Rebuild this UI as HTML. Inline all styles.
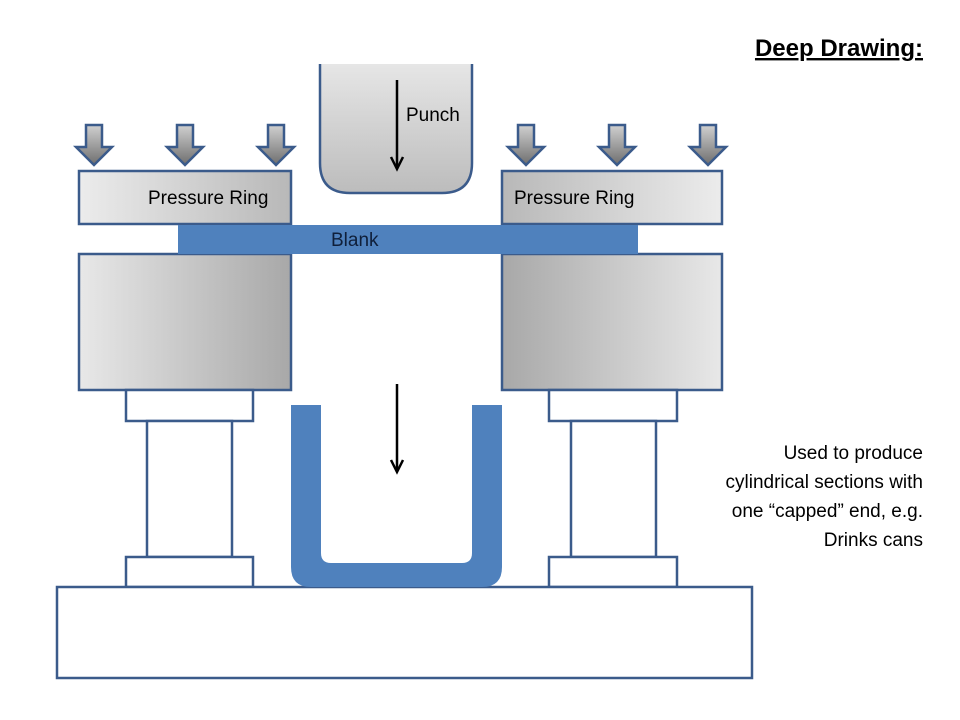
<!DOCTYPE html>
<html><head><meta charset="utf-8"><style>
html,body{margin:0;padding:0;background:#fff;}
svg{display:block;}
text{font-family:"Liberation Sans",sans-serif;}
</style></head><body>
<svg width="960" height="720" viewBox="0 0 960 720" xmlns="http://www.w3.org/2000/svg">
<defs>
<linearGradient id="gl" x1="0" x2="1" y1="0" y2="0"><stop offset="0" stop-color="#e8e8e8"/><stop offset="1" stop-color="#a8a8a8"/></linearGradient>
<linearGradient id="gr" x1="1" x2="0" y1="0" y2="0"><stop offset="0" stop-color="#e8e8e8"/><stop offset="1" stop-color="#a8a8a8"/></linearGradient>
<linearGradient id="rl" x1="0" x2="1" y1="0" y2="0"><stop offset="0" stop-color="#ececec"/><stop offset="1" stop-color="#b8b8b8"/></linearGradient>
<linearGradient id="rr" x1="1" x2="0" y1="0" y2="0"><stop offset="0" stop-color="#ececec"/><stop offset="1" stop-color="#b8b8b8"/></linearGradient>
<linearGradient id="pu" x1="0" x2="0" y1="0" y2="1"><stop offset="0" stop-color="#e6e6e6"/><stop offset="1" stop-color="#bcbcbc"/></linearGradient>
<linearGradient id="ar" x1="0" x2="0" y1="0" y2="1"><stop offset="0" stop-color="#d0d0d0"/><stop offset="1" stop-color="#6e6e6e"/></linearGradient>
<path id="ba" d="M-8,0 H8 V22 H18 L0,40 L-18,22 H-8 Z" fill="url(#ar)" stroke="#3b5b8b" stroke-width="2.5" stroke-linejoin="miter"/>
</defs>
<g stroke="#3b5b8b" stroke-width="2.5" fill="#fff">
<path d="M320,64 V163 Q320,193 350,193 H442 Q472,193 472,163 V64" fill="url(#pu)"/>
<rect x="79" y="171" width="212" height="53" fill="url(#rl)"/>
<rect x="502" y="171" width="220" height="53" fill="url(#rr)"/>
<rect x="79" y="254" width="212" height="136" fill="url(#gl)"/>
<rect x="502" y="254" width="220" height="136" fill="url(#gr)"/>
<rect x="126" y="390" width="127" height="31"/>
<rect x="147" y="421" width="85" height="136"/>
<rect x="126" y="557" width="127" height="30"/>
<rect x="549" y="390" width="128" height="31"/>
<rect x="571" y="421" width="85" height="136"/>
<rect x="549" y="557" width="128" height="30"/>
<rect x="57" y="587" width="695" height="91"/>
</g>
<rect x="178" y="225" width="460" height="29" fill="#4f81bd"/>
<path d="M291,405 H321 V553 Q321,563 331,563 H462 Q472,563 472,553 V405 H502 V567 Q502,587 482,587 H311 Q291,587 291,567 Z" fill="#4f81bd"/>
<use href="#ba" x="94" y="125"/>
<use href="#ba" x="185" y="125"/>
<use href="#ba" x="276" y="125"/>
<use href="#ba" x="526" y="125"/>
<use href="#ba" x="617" y="125"/>
<use href="#ba" x="708" y="125"/>
<g stroke="#000" stroke-width="2.5" fill="none">
<line x1="397" y1="80" x2="397" y2="168"/>
<path d="M391,157 L397,169 L403,157"/>
<line x1="397" y1="384" x2="397" y2="471"/>
<path d="M391,460 L397,472 L403,460"/>
</g>
<g font-size="19" fill="#000">
<text x="406" y="121">Punch</text>
<text x="148" y="204">Pressure Ring</text>
<text x="514" y="204">Pressure Ring</text>
<text x="331" y="246" fill="#0f1f3a">Blank</text>
</g>
<text x="923" y="56" text-anchor="end" font-size="24" font-weight="bold" text-decoration="underline">Deep Drawing:</text>
<g font-size="19" text-anchor="end" fill="#000">
<text x="923" y="459">Used to produce</text>
<text x="923" y="488">cylindrical  sections with</text>
<text x="923" y="517">one “capped” end, e.g.</text>
<text x="923" y="546">Drinks cans</text>
</g>
</svg>
</body></html>
